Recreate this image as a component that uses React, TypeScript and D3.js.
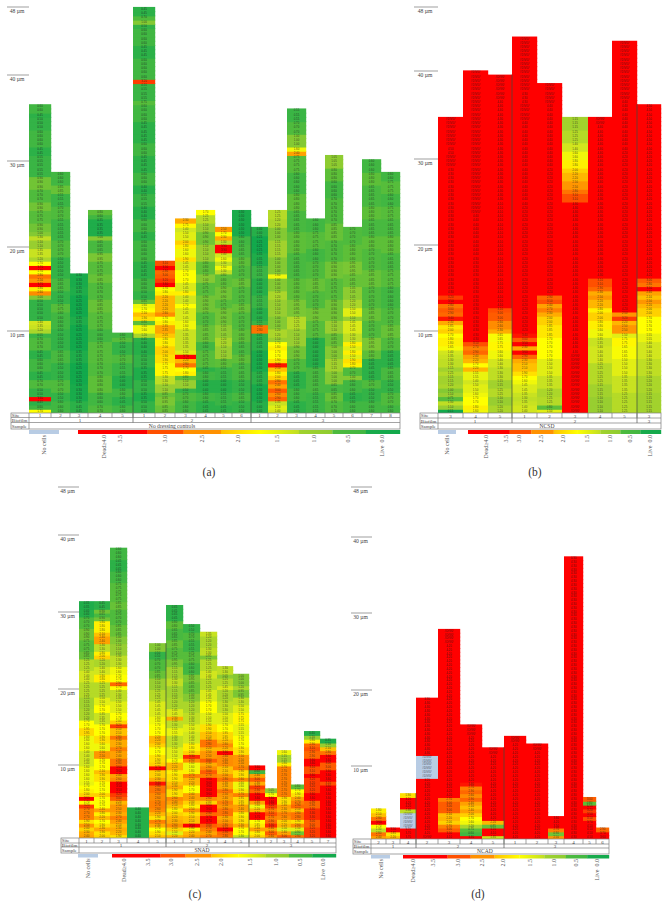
import React from "react";
import * as d3 from "d3";

type Run = [number, number];
const NO_DATA = 9; // "#DIV/0!" on red
const NO_CELL = -1; // "#DIV/0!" on blue

// ---- (a) No dressing controls: values bottom-to-top as [value, rows]
const a1: Run[] = [[1.7,1],[.6,1],[.45,1],[3.6,1],[.5,2],[.7,2],[.45,2],[.6,3],[.45,2],[.7,3],[.55,1],[1.2,1],[1.35,1],[1.4,1],[.5,5],[1.0,1],[2.6,1],[1.8,1],[3.7,1],[2.5,1],[2.8,1],[1.7,1],[3.7,1],[1.7,1],[1.2,1],[1.35,2],[1.1,2],[1.3,1],[1.0,1],[.9,2],[.75,3],[.9,2],[.7,3],[.9,3],[.55,5],[.45,2],[.6,4],[.5,3],[.45,1],[.6,2]];
const a2: Run[] = [[.6,3],[.5,2],[.7,3],[.5,4],[.65,3],[.5,5],[.6,4],[.75,2],[.5,3],[.65,3],[.5,5],[.7,4],[.55,5],[.7,3],[.55,3],[.85,2],[.6,3]];
const a3: Run[] = [[.45,3],[.3,4],[.25,5],[.35,3],[.25,6],[.35,2],[.25,5],[.35,2],[.3,3]];
const a4: Run[] = [[.7,2],[.6,3],[.8,4],[.7,3],[.75,5],[.6,3],[.75,4],[.85,3],[.7,4],[.85,2],[.75,3],[.95,2],[.65,3],[1.0,1],[.35,4],[.6,1],[.8,1]];
const a5: Run[] = [[.6,2],[.45,2],[.6,2],[.4,3],[.55,3],[.7,2],[.5,3],[.75,1],[.6,1]];
const a6: Run[] = [[.5,3],[.35,2],[.5,3],[.35,3],[.5,3],[.4,3],[.45,1],[1.2,1],[1.6,2],[.8,1],[1.9,1],[2.1,1],[1.7,1],[1.6,1],[.85,1],[.5,2],[.6,3],[.45,4],[.6,5],[.45,2],[.6,3],[.4,3],[.55,3],[.4,2],[.6,3],[.45,4],[.6,3],[.45,5],[.6,4],[.75,1],[.55,4],[3.2,1],[.6,5],[.45,3],[.6,4],[.5,1],[1.0,1],[.7,1],[.45,2]];
const a7: Run[] = [[.85,2],[.95,2],[.85,1],[1.1,2],[1.3,2],[1.75,3],[1.9,2],[2.0,2],[1.8,2],[2.05,1],[2.35,2],[1.8,1],[1.7,1],[2.6,1],[2.2,4],[1.8,1],[1.7,1],[3.6,1],[3.2,1],[3.0,1],[2.9,1],[3.5,1],[3.1,1]];
const a8: Run[] = [[.6,3],[.7,2],[.5,1],[1.1,2],[.8,1],[1.8,1],[1.7,1],[2.8,1],[2.2,1],[3.7,1],[1.5,1],[1.35,5],[1.6,2],[1.45,3],[1.7,1],[1.4,2],[1.8,1],[1.45,2],[1.7,3],[1.45,2],[1.9,1],[1.6,2],[1.8,1],[2.0,1],[1.5,2],[1.4,1],[1.75,1],[2.3,1]];
const a9: Run[] = [[.45,3],[.6,2],[.4,3],[.6,2],[.45,1],[.75,4],[.6,2],[.85,4],[.7,3],[.9,4],[.75,3],[1.0,2],[.8,3],[1.1,4],[.9,3],[1.1,2],[1.25,2],[1.7,1]];
const a10: Run[] = [[.45,2],[.55,3],[.4,3],[.55,3],[.8,2],[1.1,3],[1.2,2],[1.05,3],[.9,4],[.75,2],[.9,3],[.8,3],[1.3,1],[1.6,1],[1.3,1],[1.6,1],[1.4,1],[3.9,2],[1.3,1],[2.3,1],[1.7,1],[2.5,1]];
const a11: Run[] = [[.5,3],[.65,2],[.5,3],[.65,4],[.8,2],[.65,3],[.8,3],[.7,4],[.85,2],[.7,4],[.85,2],[.7,3],[.8,2],[.65,3],[.6,2],[.3,6]];
const a12: Run[] = [[.4,3],[.3,4],[.45,3],[.3,5],[.45,4],[2.8,2],[.55,1],[.4,3],[.55,3],[.4,4],[.55,3],[.35,3],[.25,4],[.4,2]];
const a13: Run[] = [[1.4,1],[1.5,1],[1.35,1],[2.9,1],[2.6,1],[3.0,1],[2.4,1],[2.8,1],[2.0,1],[1.8,1],[2.1,1],[3.4,1],[1.9,1],[1.7,2],[1.8,1],[1.7,1],[1.1,1],[1.2,2],[1.0,3],[1.1,4],[1.2,2],[1.0,3],[1.6,1],[1.0,4],[1.15,4],[1.0,3],[1.2,2],[1.25,2]];
const a14: Run[] = [[.45,3],[.6,3],[.45,4],[.7,3],[.9,3],[1.1,4],[1.25,3],[.95,4],[.8,5],[.65,6],[.8,5],[.65,5],[.8,4],[.6,5],[.75,4],[2.4,1],[1.6,1],[1.0,3],[.7,3],[.55,3]];
const a15: Run[] = [[.55,5],[.65,6],[.4,7],[.75,4],[.9,3],[.7,4],[.85,3],[.7,4],[.6,3],[.75,4],[.6,3]];
const a16: Run[] = [[.7,3],[.85,2],[.65,2],[1.0,3],[1.15,3],[1.0,3],[.85,3],[1.1,3],[.9,5],[.75,5],[.9,4],[.7,5],[.85,4],[.7,6],[.6,4],[.8,3],[1.05,3]];
const a17: Run[] = [[.6,3],[.45,2],[.6,3],[1.0,1],[.7,2],[1.8,1],[1.9,1],[1.5,1],[1.8,1],[1.5,1],[1.8,1],[1.3,2],[1.45,3],[1.1,1],[1.5,2],[1.2,2],[1.05,3],[.85,3],[.95,3],[.8,4],[.7,4]];
const a18: Run[] = [[.6,3],[.5,3],[.7,2],[.45,5],[.8,2],[.95,3],[.7,4],[.85,3],[.7,5],[.85,4],[.7,5],[.8,3],[.65,4],[.8,3],[.65,5],[.8,3],[.6,3]];
const a19: Run[] = [[.6,2],[.7,3],[.5,3],[.65,3],[.45,4],[.7,3],[.85,3],[.7,4],[.6,5],[.75,4],[.65,4],[.8,4],[.65,4],[.75,3],[.6,3],[.75,3],[.6,2]];
const seriesA = [a1,a2,a3,a4,a5,a6,a7,a8,a9,a10,a11,a12,a13,a14,a15,a16,a17,a18,a19];
const sitesA = ["1","2","3","4","5","1","2","3","4","5","6","1","2","3","4","5","6","7","8"];

// ---- (b) NCSD
const b1: Run[] = [[.15,1],[1.1,1],[1.3,1],[.75,1],[1.1,1],[1.0,1],[1.2,1],[1.15,2],[1.25,1],[1.15,1],[1.3,2],[1.35,1],[1.4,1],[1.65,1],[1.8,2],[1.7,1],[2.0,1],[1.85,1],[2.3,1],[3.4,1],[2.9,1],[3.0,1],[2.8,1],[3.5,1],[3.2,1],[4.3,30],[NO_DATA,3],[4.5,2],[NO_DATA,7]];
const b2: Run[] = [[1.6,1],[1.8,1],[1.7,2],[1.6,1],[1.5,2],[1.4,1],[1.55,2],[2.2,1],[1.7,1],[2.2,1],[2.4,1],[2.9,1],[2.7,1],[3.1,1],[4.3,20],[4.4,10],[NO_DATA,34]];
const b3: Run[] = [[1.2,2],[1.1,2],[1.25,2],[1.15,2],[1.3,3],[1.4,2],[1.6,2],[1.75,2],[1.65,2],[2.3,1],[2.6,2],[3.0,2],[3.1,1],[4.1,25],[4.3,20],[4.4,4],[NO_DATA,6]];
const b4: Run[] = [[1.4,2],[1.35,1],[1.3,1],[1.35,1],[1.45,2],[1.6,1],[1.7,1],[1.9,1],[2.1,2],[2.3,1],[2.9,1],[3.6,1],[2.3,1],[3.5,1],[3.0,1],[3.4,1],[4.2,30],[4.4,20],[NO_DATA,4],[4.3,3],[NO_DATA,13]];
const b5: Run[] = [[1.5,1],[.8,1],[1.25,2],[1.2,2],[1.35,3],[1.5,4],[1.7,5],[1.85,3],[2.0,2],[2.3,1],[2.7,1],[2.4,1],[3.1,1],[2.9,1],[4.2,30],[4.4,15],[NO_DATA,5]];
const b6: Run[] = [[NO_DATA,14],[4.3,36],[3.1,2],[2.8,1],[2.5,2],[2.2,2],[2.0,1],[1.8,2],[1.6,2],[1.4,2],[1.25,3],[1.15,3]];
const b7: Run[] = [[1.1,4],[1.15,3],[1.25,5],[1.4,4],[1.35,2],[1.6,2],[1.8,2],[2.0,2],[1.8,1],[2.2,2],[2.5,1],[2.3,1],[2.9,1],[3.1,2],[4.3,20],[4.4,16],[NO_DATA,2]];
const b8: Run[] = [[1.25,5],[1.35,4],[1.5,4],[1.65,3],[1.75,2],[1.5,1],[2.5,2],[2.2,1],[3.2,1],[2.5,1],[4.2,38],[4.4,12],[NO_DATA,14]];
const b9: Run[] = [[1.15,5],[1.2,4],[1.3,4],[1.4,4],[1.55,2],[1.7,4],[2.0,2],[2.2,1],[2.5,1],[2.1,1],[2.4,1],[3.5,1],[2.8,1],[3.0,1],[4.2,30],[4.5,11]];
const seriesB = [b1,b2,b3,b4,b5,b6,b7,b8,b9];
const sitesB = ["3","4","5","1","2","3","4","5","3"];

// ---- (c) SNAD
const c1: Run[] = [[2.4,1],[2.3,1],[2.0,1],[2.5,1],[1.9,1],[2.7,3],[3.2,1],[1.7,1],[3.6,1],[2.0,1],[1.8,1],[1.7,1],[1.55,1],[1.6,4],[1.4,4],[1.6,4],[1.95,2],[1.7,2],[1.2,3],[1.15,3],[1.25,4],[1.4,3],[1.25,3],[.85,2],[.75,3],[.9,3],[.7,3],[.4,2],[.35,2]];
const c2: Run[] = [[2.0,1],[1.9,1],[2.3,1],[1.9,1],[1.7,1],[2.2,1],[1.8,1],[2.4,1],[1.7,3],[2.0,1],[1.7,3],[1.9,2],[2.1,1],[1.7,3],[2.5,2],[1.6,2],[1.9,2],[1.7,3],[1.35,3],[1.7,2],[1.5,2],[1.25,4],[1.8,2],[1.4,2],[1.2,2],[2.0,1],[1.8,1],[1.3,2],[2.4,2],[2.1,1],[1.8,3],[.9,1],[.65,1],[.9,1],[.45,2]];
const c3: Run[] = [[1.9,1],[2.2,1],[2.3,1],[2.1,1],[2.4,1],[2.7,1],[2.3,1],[2.5,2],[2.2,1],[3.0,1],[3.2,1],[3.5,3],[2.6,1],[2.4,1],[3.6,2],[2.8,2],[2.4,2],[2.7,1],[2.3,2],[2.8,1],[2.1,2],[3.2,1],[2.0,1],[1.7,2],[1.5,3],[1.3,3],[1.7,1],[2.9,1],[1.7,2],[1.6,2],[1.3,3],[1.1,3],[1.0,2],[.85,3],[.7,4],[.85,2],[.75,5],[.6,3],[.45,3],[.6,3]];
const c4: Run[] = [[.4,8]];
const c5: Run[] = [[2.1,1],[1.9,1],[1.7,1],[2.3,1],[2.7,1],[1.9,1],[2.2,1],[2.6,1],[2.7,2],[2.6,2],[2.8,2],[3.4,1],[2.3,1],[2.0,2],[3.7,1],[2.0,1],[1.9,2],[1.7,2],[2.0,1],[2.2,2],[1.7,3],[1.6,2],[1.45,4],[1.25,3],[1.1,3],[.85,2],[.7,3],[.5,2],[1.0,2]];
const c6: Run[] = [[2.2,1],[1.5,1],[2.0,1],[2.6,1],[2.3,1],[2.2,1],[2.0,1],[1.8,1],[2.1,1],[2.4,1],[2.6,1],[1.9,2],[2.3,1],[2.1,1],[1.9,2],[1.8,1],[2.2,2],[1.7,1],[1.5,3],[1.3,3],[1.55,2],[1.3,2],[2.3,1],[1.45,2],[1.2,3],[1.15,3],[1.3,2],[1.15,3],[.95,2],[.75,3],[.85,2],[.65,3],[.8,2],[.45,4]];
const c7: Run[] = [[2.4,1],[2.2,1],[1.8,1],[3.6,1],[2.1,2],[1.9,1],[2.5,1],[1.8,1],[2.0,1],[2.4,2],[1.7,2],[2.2,2],[2.7,1],[1.8,1],[1.6,2],[2.6,1],[3.3,1],[2.0,1],[1.8,2],[1.4,3],[1.5,2],[1.3,3],[1.2,3],[1.0,2],[.85,3],[.95,2],[.6,3],[.75,3],[.55,3],[.7,2],[.5,2]];
const c8: Run[] = [[2.7,1],[2.4,1],[2.7,1],[3.0,1],[3.7,2],[2.9,1],[3.6,2],[2.0,1],[2.6,1],[3.6,5],[2.7,1],[3.0,1],[2.6,1],[2.3,1],[3.0,1],[2.5,2],[2.2,1],[2.8,2],[2.1,2],[1.9,2],[1.5,3],[1.7,3],[1.45,3],[1.25,3],[1.4,2],[1.25,3],[.95,1],[1.3,2],[1.2,3],[1.35,1]];
const c9: Run[] = [[2.8,1],[2.9,1],[3.5,1],[2.8,1],[2.5,1],[2.3,1],[2.8,2],[2.5,1],[2.7,1],[2.4,1],[2.5,1],[2.8,1],[2.3,2],[2.8,1],[2.5,1],[2.1,2],[2.6,3],[3.6,1],[2.2,1],[2.6,1],[2.2,1],[1.95,2],[1.7,2],[1.5,3],[1.3,3],[1.2,3],[1.45,1],[1.25,2],[1.05,1],[1.3,2]];
const c10: Run[] = [[1.3,1],[1.7,2],[2.3,1],[1.9,2],[1.8,1],[2.4,2],[1.95,2],[2.7,1],[1.9,1],[1.6,2],[2.6,1],[1.9,2],[2.7,1],[2.5,3],[1.9,2],[1.7,3],[1.55,3],[1.75,3],[1.5,2],[1.3,2],[.95,2],[1.2,1],[1.0,3]];
const c11: Run[] = [[2.0,1],[1.8,1],[2.4,1],[1.85,1],[1.7,1],[3.7,2],[2.2,1],[1.6,1],[2.4,1],[3.6,2],[2.9,1],[3.2,1],[2.3,1],[3.0,1],[2.4,1],[.6,1],[3.6,1]];
const c12: Run[] = [[2.6,1],[3.0,1],[2.4,1],[3.3,1],[2.9,1],[2.7,1],[3.1,1],[2.7,1],[3.2,1],[3.6,2],[1.7,1],[1.05,1]];
const c13: Run[] = [[3.0,1],[2.4,1],[1.5,1],[2.2,1],[2.0,1],[2.6,1],[2.7,1],[2.3,1],[2.4,1],[1.9,2],[2.7,8],[1.8,1],[1.15,2],[1.6,1]];
const c14: Run[] = [[2.8,1],[.9,1],[1.5,1],[2.6,1],[1.9,1],[2.8,2],[2.1,1],[2.9,1],[2.7,1],[2.4,1],[1.9,1],[1.7,1],[.8,1]];
const c15: Run[] = [[3.2,3],[3.0,2],[3.3,3],[2.9,2],[3.6,2],[3.2,4],[3.6,1],[3.1,2],[3.6,2],[2.9,2],[3.1,1],[2.9,1],[1.8,1],[1.1,1],[.4,1]];
const c16: Run[] = [[3.6,14],[3.1,1],[3.6,3],[3.0,2],[3.6,2],[2.8,1],[2.1,1],[1.1,1],[.35,1]];
const seriesC = [c1,c2,c3,c4,c5,c6,c7,c8,c9,c10,c11,c12,c13,c14,c15,c16];
const sitesC = ["1","2","3","4","5","1","2","3","4","5","1","2","3","4","5","7"];

// ---- (d) NCAD
const n1: Run[] = [[2.4,1],[2.8,1],[1.3,1],[1.7,1],[3.6,1],[2.8,1],[2.1,1],[1.8,1]];
const n2: Run[] = [[2.2,1],[1.85,1],[3.5,1]];
const n3: Run[] = [[3.7,3],[NO_CELL,4],[1.3,1],[4.2,3],[1.9,1]];
const n4: Run[] = [[NO_DATA,1],[4.2,15],[NO_CELL,6],[4.3,15]];
const n5: Run[] = [[4.1,1],[3.5,1],[3.0,1],[2.7,1],[2.0,1],[2.2,1],[2.1,1],[3.0,3],[2.7,1],[4.2,40],[NO_DATA,4]];
const n6: Run[] = [[4.4,1],[.6,1],[.75,1],[1.2,1],[1.6,1],[1.7,1],[2.0,1],[2.4,1],[2.1,1],[2.4,1],[2.9,1],[2.6,1],[2.9,1],[2.7,1],[3.4,1],[4.2,12],[NO_DATA,3]];
const n7: Run[] = [[1.35,1],[4.1,2],[.85,1],[2.2,1],[4.2,17],[NO_DATA,2]];
const n8: Run[] = [[4.2,25],[NO_DATA,2]];
const n9: Run[] = [[4.2,23],[NO_DATA,2]];
const n10: Run[] = [[2.5,1],[.9,1],[2.7,1],[3.5,1],[4.2,1],[3.6,1]];
const n11: Run[] = [[4.3,74]];
const n12: Run[] = [[4.1,4],[3.7,1],[3.1,1],[3.5,1],[3.2,1],[4.1,1],[.8,1],[3.0,1]];
const n13: Run[] = [[3.6,1],[3.7,1],[2.9,1]];
const seriesD = [n1,n2,n3,n4,n5,n6,n7,n8,n9,n10,n11,n12,n13];
const sitesD = ["2","3","4","2","3","4","5","1","2","3","4","5","6"];

const tickValues = [0, 10, 20, 30, 40, 48];
const legendLabels = ["Dead\u22654.0", "3.5", "3.0", "2.5", "2.0", "1.5", "1.0", "0.5", "Live  0.0"];

// ---- colour
const colorStops = [0.25, 0.5, 0.8, 1.1, 1.4, 1.7, 2.1, 2.6, 3.1, 3.5];
const colorRange = ["#12a94c", "#33b347", "#5dbf38", "#98ce30", "#d2e61e", "#ffff00", "#ffc000", "#ff8c00", "#ff5000", "#ff0000"];
const heat = d3.scaleLinear<string>().domain(colorStops).range(colorRange).clamp(true);
const cellColor = (v: number) => (v === NO_CELL ? "#b8cce4" : heat(v));
const cellText = (v: number) => (v === NO_DATA || v === NO_CELL ? "#DIV/0!" : v.toFixed(2));

const legendSegmentWidths = [0.216, 0.112, 0.116, 0.121, 0.121, 0.104, 0.104, 0.106];
const legendFrom = [3.6, 3.1, 2.55, 2.1, 1.7, 1.15, 0.7, 0.3];
const legendTo = [3.6, 3.1, 2.55, 1.7, 1.3, 1.05, 0.6, 0.25];
const legendTickFractions = [0.618, 0.734, 0.838, 0.944];

// ---- layout (positions only)
interface Panel {
  id: string; caption: string; sample: string; series: Run[][]; sites: string[];
  edges: number[]; base: number; rowH: number; tickOffsets: number[];
  tickX: [number, number]; tableLeft: number; tableRows: number[];
  groups: [number, string][]; groupX: number[]; sampleX: number;
  legendY: number; legendH: number; blue: [number, number]; grad: [number, number];
  legendFracs: number[]; labelTop: number; captionX: number; captionY: number;
}
const panels: Panel[] = [
  { id: "a", caption: "(a)", sample: "No dressing controls", series: seriesA, sites: sitesA,
    edges: [29,51,70,88,112,133,155,175,196,215,232,251,268,287,306,325,343,362,381,400],
    base: 413, rowH: 4.23, tickOffsets: [0,82,166,252,338,406], tickX: [7,29], tableLeft: 11,
    tableRows: [413,417.5,422.5,429], groups: [[5,"1"],[11,"2"],[19,"3"]], groupX: [80,192,323], sampleX: 172,
    legendY: 430, legendH: 4, blue: [29,59], grad: [78,400],
    legendFracs: [0.08,0.13,0.27,0.385,0.497], labelTop: 435, captionX: 209, captionY: 476 },
  { id: "b", caption: "(b)", sample: "NCSD", series: seriesB, sites: sitesB,
    edges: [438,463,488,512,537,562,588,612,637,661],
    base: 413, rowH: 4.23, tickOffsets: [0,82,168,254,342,406], tickX: [414,438], tableLeft: 420,
    tableRows: [413,418,423,429], groups: [[3,"1"],[8,"2"],[9,"3"]], groupX: [475,575,649], sampleX: 547,
    legendY: 430, legendH: 4, blue: [438,456], grad: [468,661],
    legendFracs: [0.093,0.197,0.264,0.378,0.492], labelTop: 435, captionX: 535, captionY: 476 },
  { id: "c", caption: "(c)", sample: "SNAD", series: seriesC, sites: sitesC,
    edges: [79,94,110,127,149,166,183,200,217,233,249,265,277,291,304,320,336],
    base: 838, rowH: 3.82, tickOffsets: [0,73,149,226,303,351], tickX: [58,79], tableLeft: 61,
    tableRows: [838,843,847,853], groups: [[5,"1"],[10,"2"],[16,"3"]], groupX: [121,207,291], sampleX: 202,
    legendY: 854, legendH: 3.5, blue: [78,98], grad: [112,336],
    legendFracs: [0.054,0.16,0.263,0.38,0.487], labelTop: 858.5, captionX: 195, captionY: 898 },
  { id: "d", caption: "(d)", sample: "NCAD", series: seriesD, sites: sitesD,
    edges: [371,386,400,416,438,460,482,504,526,548,564,583,596,609],
    base: 839, rowH: 3.82, tickOffsets: [0,73,149,226,302,352], tickX: [351,372], tableLeft: 353,
    tableRows: [839,844,848,854], groups: [[3,"1"],[7,"2"],[13,"3"]], groupX: [393,458,555], sampleX: 485,
    legendY: 855, legendH: 3.5, blue: [371,390], grad: [403,609],
    legendFracs: [0.05,0.146,0.267,0.383,0.485], labelTop: 859, captionX: 478, captionY: 898 },
];

const SERIF = "'Liberation Serif', 'DejaVu Serif', serif";
const SANS = "'Liberation Sans', Arial, sans-serif";
const GRID = "#7d7d7d";

function HeatPanel({ p }: { p: Panel }) {
  const x = d3.scaleLinear().domain(p.edges.map((_, i) => i)).range(p.edges);
  const y = d3.scaleLinear().domain([0, 1]).range([p.base, p.base - p.rowH]);
  const tick = d3.scaleLinear().domain(tickValues).range(p.tickOffsets.map((o) => p.base - o));
  const columns = p.series.map((runs) => runs.flatMap(([v, n]) => d3.range(n).map(() => v)));
  const [t0, t1, t2, t3] = p.tableRows;
  const last = p.edges.length - 1;
  const right = x(last);

  // legend
  const cum = d3.cumsum(legendSegmentWidths);
  const grad = d3.scaleLinear().domain([0, 1]).range(p.grad);
  const labelFracs = [...p.legendFracs, ...legendTickFractions];

  return (
    <g>
      {/* cells: each row overlaps the one below so that no seam shows through */}
      {columns.map((vals, c) => (
        <g key={c}>
          {vals.map((v, r) => (
            <g key={r}>
              <rect x={x(c)} y={y(r + 1)} width={x(c + 1) - x(c) + 0.2} height={p.rowH + (r === 0 ? 0 : 1)} fill={cellColor(v)} />
            </g>
          ))}
          {vals.map((v, r) => (
            <text key={r} x={(x(c) + x(c + 1)) / 2} y={y(r + 0.5) + 0.9} fontSize={2.8} fontFamily={SANS}
              textAnchor="middle" fill="#1a1a1a" fillOpacity={0.8}>{cellText(v)}</text>
          ))}
        </g>
      ))}

      {/* group separators */}
      {p.groups.slice(0, -1).map(([end]) => {
        const h = Math.min(columns[end - 1].length, columns[end].length);
        return <line key={end} x1={x(end)} x2={x(end)} y1={t1} y2={y(h)} stroke="#3c4a3c" strokeWidth={0.7} />;
      })}

      {/* axis ticks */}
      {tickValues.slice(1).map((t) => (
        <g key={t}>
          <line x1={p.tickX[0]} x2={p.tickX[1]} y1={tick(t)} y2={tick(t)} stroke="#777" strokeWidth={0.7} />
          <text x={(p.tickX[0] + p.tickX[1]) / 2 - 1} y={tick(t) + 6.2} fontSize={5.6} fontFamily={SERIF}
            textAnchor="middle" fill="#444">{`${t} \u00b5m`}</text>
        </g>
      ))}

      {/* table */}
      <g stroke={GRID} strokeWidth={0.7} fill="none">
        <rect x={p.tableLeft} y={t0} width={right - p.tableLeft} height={t3 - t0} />
        <line x1={p.tableLeft} x2={right} y1={t1} y2={t1} />
        <line x1={p.tableLeft} x2={right} y1={t2} y2={t2} />
        <line x1={x(0)} x2={x(0)} y1={t0} y2={t3} />
        {p.edges.slice(1, -1).map((_, i) => (
          <line key={i} x1={x(i + 1)} x2={x(i + 1)} y1={t0} y2={t1} />
        ))}
        {p.groups.slice(0, -1).map(([end]) => (
          <line key={end} x1={x(end)} x2={x(end)} y1={t1} y2={t2} stroke="#555" />
        ))}
      </g>
      <g fontFamily={SERIF} fill="#444" fontSize={5}>
        <text x={p.tableLeft + 0.8} y={t1 - 0.6} fontSize={5}>Site</text>
        <text x={p.tableLeft + 0.8} y={t2 - 0.4} fontSize={5}>Biofilm</text>
        <text x={p.tableLeft + 0.8} y={t3 - 1.2} fontSize={5}>Sample</text>
        {p.sites.map((s, i) => (
          <text key={i} x={(x(i) + x(i + 1)) / 2} y={t1 - 0.5} textAnchor="middle">{s}</text>
        ))}
        {p.groups.map(([, g], i) => (
          <text key={i} x={p.groupX[i]} y={t2 - 0.4} textAnchor="middle">{g}</text>
        ))}
        <text x={p.sampleX} y={t3 - 1.2} textAnchor="middle" fontSize={5.6}>{p.sample}</text>
      </g>

      {/* legend */}
      <rect x={p.blue[0]} y={p.legendY} width={p.blue[1] - p.blue[0]} height={p.legendH} fill="#b8cce4" />
      <defs>
        {legendSegmentWidths.map((_, i) => (
          <linearGradient key={i} id={`leg-${p.id}-${i}`}>
            <stop offset="0" stopColor={heat(legendFrom[i])} />
            <stop offset="1" stopColor={heat(legendTo[i])} />
          </linearGradient>
        ))}
      </defs>
      {legendSegmentWidths.map((_, i) => {
        const f0 = i === 0 ? 0 : cum[i - 1];
        return <rect key={i} x={grad(f0)} y={p.legendY} width={grad(cum[i]) - grad(f0) + 0.2} height={p.legendH} fill={`url(#leg-${p.id}-${i})`} />;
      })}
      <g fontFamily={SERIF} fontSize={6} fill="#555">
        <text transform={`translate(${(p.blue[0] + p.blue[1]) / 2 + 2},${p.labelTop}) rotate(-90)`} textAnchor="end">No cells</text>
        {legendLabels.map((l, i) => (
          <text key={i} transform={`translate(${grad(labelFracs[i]) + 2},${p.labelTop}) rotate(-90)`} textAnchor="end" xmlSpace="preserve">{l}</text>
        ))}
      </g>

      <text x={p.captionX} y={p.captionY} fontSize={11.5} fontFamily={SERIF} textAnchor="middle" fill="#333">{p.caption}</text>
    </g>
  );
}

export default function App() {
  return (
    <svg width={668} height={917} viewBox="0 0 668 917" style={{ position: "absolute", left: 0, top: 0, background: "#fff" }}>
      {panels.map((p) => <HeatPanel key={p.id} p={p} />)}
    </svg>
  );
}
